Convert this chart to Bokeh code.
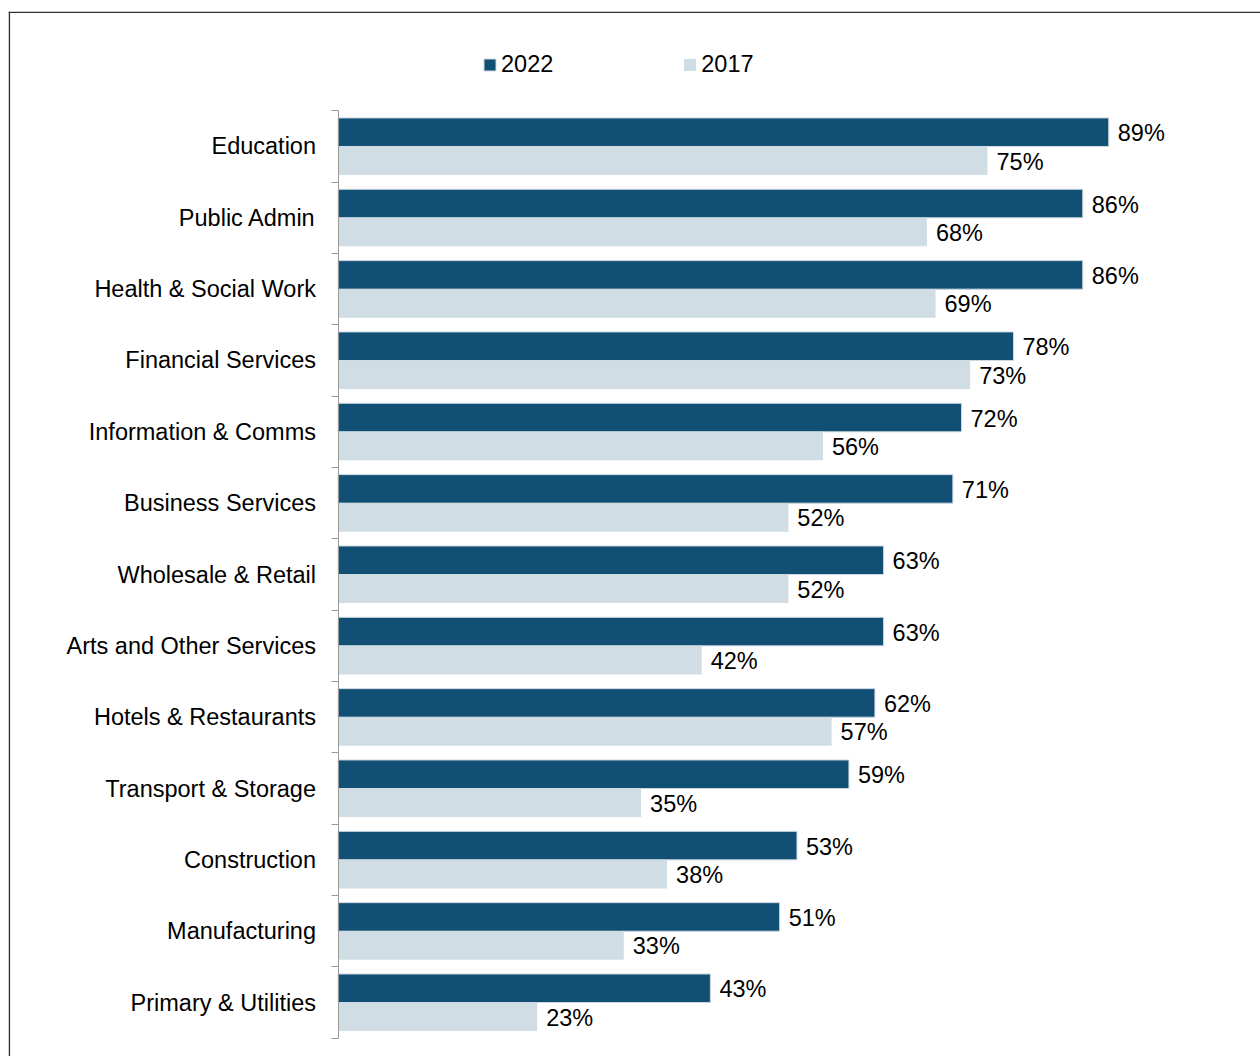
from bokeh.plotting import figure
from bokeh.models import Range1d, LinearAxis, FixedTicker, ColumnDataSource, Legend, LegendItem, Span
from bokeh.core.properties import value
from bokeh.embed import file_html
from bokeh.resources import INLINE
import numpy as np

categories = ["Education", "Public Admin", "Health & Social Work", "Financial Services",
              "Information & Comms", "Business Services", "Wholesale & Retail",
              "Arts and Other Services", "Hotels & Restaurants", "Transport & Storage",
              "Construction", "Manufacturing", "Primary & Utilities"]
v2022 = [89, 86, 86, 78, 72, 71, 63, 63, 62, 59, 53, 51, 43]
v2017 = [75, 68, 69, 73, 56, 52, 52, 42, 57, 35, 38, 33, 23]
series_names = ["2022", "2017"]

DARK = "#124f74"
LIGHT = "#d0dde5"
FONT = "Liberation Sans"
FS = "23.5px"

n = len(categories)
ypos = np.arange(n)[::-1].astype(float)

src22 = ColumnDataSource(dict(y=ypos + 0.2, v=v2022, lab=[f"{x}%" for x in v2022]))
src17 = ColumnDataSource(dict(y=ypos - 0.2, v=v2017, lab=[f"{x}%" for x in v2017]))

PX = 8.66          # pixels per percent
UY = 71.34         # pixels per category band
x0, x1 = -329.5 / PX, 922.5 / PX
y0, y1 = -0.7565, 13.892

p = figure(width=1260, height=1056,
           x_range=Range1d(x0, x1), y_range=Range1d(y0, y1),
           output_backend="svg", toolbar_location=None,
           x_axis_location=None, y_axis_location=None,
           min_border_left=8, min_border_right=0, min_border_top=11, min_border_bottom=0)
p.outline_line_color = None
p.background_fill_color = "white"
p.border_fill_color = "white"
p.grid.visible = False

# frame border (left and top edges only)
p.add_layout(Span(location=x0 + 0.8 / PX, dimension="height", line_color="#303030", line_width=1.6))
p.add_layout(Span(location=y1 - 0.8 / UY, dimension="width", line_color="#303030", line_width=1.6))

r22 = p.hbar(y="y", right="v", left=0, height=0.40, source=src22,
             fill_color=DARK, line_color="#cdd9e2", line_width=1)
r17 = p.hbar(y="y", right="v", left=0, height=0.40, source=src17,
             fill_color=LIGHT, line_color=None)

for src in (src22, src17):
    p.text(x="v", y="y", text="lab", source=src, x_offset=9, y_offset=1,
           text_baseline="middle", text_align="left",
           text_font=value(FONT), text_font_size=FS, text_color="black")

ax = LinearAxis(fixed_location=0,
                ticker=FixedTicker(ticks=list(range(n)),
                                   minor_ticks=[i - 0.5 for i in range(n + 1)]),
                major_label_overrides={int(ypos[i]): categories[i] for i in range(n)})
ax.bounds = (-0.5, n - 0.5)
ax.axis_line_color = "#9a9a9a"
ax.axis_line_width = 1
ax.major_tick_out = 0
ax.major_tick_in = 0
ax.minor_tick_out = 7
ax.minor_tick_in = 0
ax.minor_tick_line_color = "#9a9a9a"
ax.major_label_standoff = 15
ax.major_label_text_font = FONT
ax.major_label_text_font_size = FS
ax.major_label_text_color = "black"
p.add_layout(ax, "left")

legend = Legend(items=[LegendItem(label=series_names[0], renderers=[r22]),
                       LegendItem(label=series_names[1], renderers=[r17])],
                orientation="horizontal", location=(474, 978.5),
                glyph_width=15, glyph_height=15, label_standoff=4, spacing=129,
                padding=0, margin=0, border_line_color=None, background_fill_alpha=0,
                label_text_font=FONT, label_text_font_size=FS, label_text_color="black")
p.add_layout(legend, "center")

open("out.html", "w").write(file_html(p, INLINE))
